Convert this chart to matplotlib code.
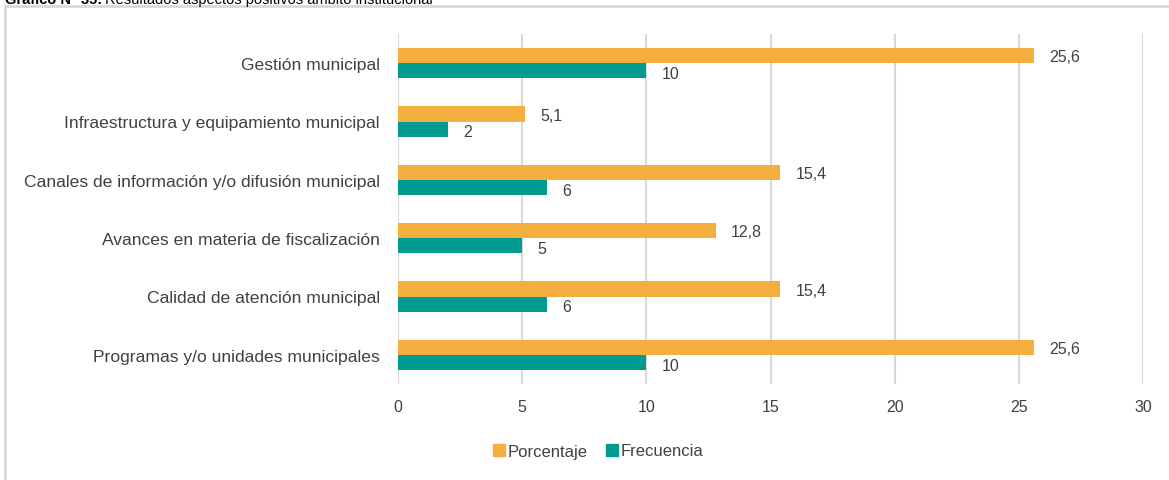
import numpy as np
import matplotlib
matplotlib.use("Agg")
import matplotlib.pyplot as plt
from matplotlib.patches import Rectangle
from matplotlib.lines import Line2D

plt.rcParams['font.family'] = ['Liberation Sans', 'DejaVu Sans']

categorias = ["Gestión municipal",
              "Infraestructura y equipamiento municipal",
              "Canales de información y/o difusión municipal",
              "Avances en materia de fiscalización",
              "Calidad de atención municipal",
              "Programas y/o unidades municipales"]
porcentaje = [25.6, 5.1, 15.4, 12.8, 15.4, 25.6]
frecuencia = [10, 2, 6, 5, 6, 10]
xticks = [0, 5, 10, 15, 20, 25, 30]

naranja = "#F5AF3F"
verde = "#009B90"
gris_txt = "#404040"
gris_lin = "#D9D9D9"

fig = plt.figure(figsize=(11.69, 4.81), dpi=100)
ax = fig.add_axes([398/1169, 1-385/481, (1143-398)/1169, 350/481])

y = np.arange(len(categorias))[::-1]
h = 0.26
ax.barh(y + h/2, porcentaje, height=h, color=naranja, zorder=3)
ax.barh(y - h/2, frecuencia, height=h, color=verde, zorder=3)

for v, yy in zip(porcentaje, y):
    ax.annotate(f"{v:g}".replace(".", ","), (v, yy + h/2), xytext=(11, -1),
                textcoords="offset points", va="center", ha="left",
                fontsize=11.5, color=gris_txt)
for v, yy in zip(frecuencia, y):
    ax.annotate(f"{v:g}", (v, yy - h/2), xytext=(11, -2),
                textcoords="offset points", va="center", ha="left",
                fontsize=11.5, color=gris_txt)

ax.set_xlim(0, 30)
ax.set_ylim(-0.5, len(categorias) - 0.5)
ax.set_xticks(xticks)
ax.set_yticks(y)
ax.set_yticklabels(categorias)
ax.tick_params(axis="both", length=0, colors=gris_txt)
ax.tick_params(axis="x", pad=11, labelsize=11.5)
ax.tick_params(axis="y", pad=13, labelsize=12.6)
ax.grid(axis="x", color=gris_lin, linewidth=1.5, zorder=0)
for s in ax.spines.values():
    s.set_visible(False)

# marco
fig.patches.append(Rectangle((5/1169, -0.1), 1.2, 1 - 7/481 + 0.1,
                             transform=fig.transFigure, fill=False,
                             edgecolor=gris_lin, linewidth=2))

# titulo (cortado arriba, como en el original)
t = fig.text(5/1169, 1 - 4/481, "Gráfico N° 35:", fontsize=10.5,
             fontweight="bold", va="baseline", ha="left")
fig.canvas.draw()
bb = t.get_window_extent()
fig.text((bb.x1 + 3)/1169, 1 - 4/481, "Resultados aspectos positivos ámbito institucional",
         fontsize=10.5, va="baseline", ha="left")

handles = [Line2D([], [], marker="s", ls="", color=naranja, markersize=8),
           Line2D([], [], marker="s", ls="", color=verde, markersize=8)]
fig.legend(handles, ["Porcentaje", "Frecuencia"], loc="center",
           bbox_to_anchor=(597/1169, 1 - 452/481), ncol=2, frameon=False,
           fontsize=12, labelcolor=gris_txt, handletextpad=0.0,
           columnspacing=1.0, handlelength=1.0)

fig.savefig("out.png", dpi=100)
